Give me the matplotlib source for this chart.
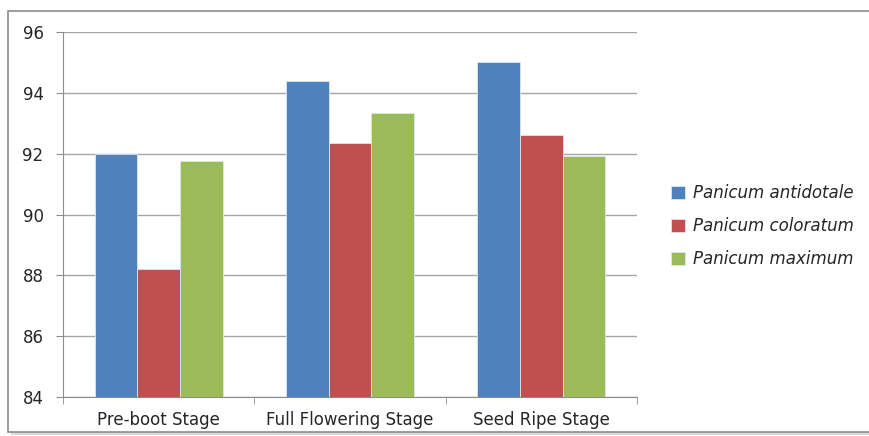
import matplotlib
matplotlib.use("Agg")
import matplotlib.pyplot as plt
import numpy as np
from matplotlib.patches import Rectangle

categories = ["Pre-boot Stage", "Full Flowering Stage", "Seed Ripe Stage"]
series_names = ["Panicum antidotale", "Panicum coloratum", "Panicum maximum"]
antidotale = [92.0, 94.4, 95.0]
coloratum = [88.2, 92.36, 92.62]
maximum = [91.75, 93.35, 91.92]
yticks = [84, 86, 88, 90, 92, 94, 96]
colors = ["#4F81BD", "#C0504D", "#9BBB59"]

plt.rcParams['font.family'] = ['DejaVu Sans']

fig = plt.figure(figsize=(8.7, 4.36), dpi=100)
W, H = 870, 436
# chart frame with shadow
fig.patches.append(Rectangle((11 / W, 1 - 435 / H), 870 / W, 423 / H, transform=fig.transFigure,
                             facecolor="#D9D9D9", edgecolor="none", zorder=-3))
fig.patches.append(Rectangle((8 / W, 1 - 432 / H), 870 / W, 421 / H, transform=fig.transFigure,
                             facecolor="white", edgecolor="#8C8C8C", linewidth=1.2, zorder=-2))

ax = fig.add_axes([63 / W, 1 - 397 / H, (637 - 63) / W, (397 - 32) / H])
ax.set_facecolor("none")
x = np.arange(len(categories))
bw = 0.223
for i, (vals, c, name) in enumerate(zip([antidotale, coloratum, maximum], colors, series_names)):
    ax.bar(x + (i - 1) * bw, np.array(vals) - 84, bottom=84, width=bw, color=c,
           edgecolor="#DCE6F2", linewidth=0.6, label=name, zorder=3)

ax.set_xlim(-0.5, 2.5)
ax.set_ylim(84, 96)
ax.set_yticks(yticks)
ax.set_yticklabels([str(t) for t in yticks], fontsize=12, color="#262626")
ax.yaxis.grid(True, color="#A6A6A6", linewidth=1.0, zorder=0)
ax.set_axisbelow(True)
ax.set_xticks(x)
ax.set_xticklabels(categories, fontsize=12, color="#262626")
ax.tick_params(axis='x', length=0, pad=10)
ax.set_xticks([-0.5, 0.5, 1.5, 2.5], minor=True)
ax.tick_params(axis='x', which='minor', length=5, color="#8C8C8C")
ax.tick_params(axis='y', length=5, color="#8C8C8C", pad=9)
for s in ["top", "right"]:
    ax.spines[s].set_visible(False)
ax.spines["left"].set_color("#8C8C8C")
ax.spines["bottom"].set_color("#8C8C8C")

leg = ax.legend(loc="center left", bbox_to_anchor=(656 / W, 1 - 226 / H), bbox_transform=fig.transFigure,
                frameon=False, prop={'style': 'italic', 'size': 12}, handlelength=0.85, handleheight=0.85,
                handletextpad=0.45, labelspacing=0.9)
for t in leg.get_texts():
    t.set_color("#262626")

fig.savefig("out.png", dpi=100)
